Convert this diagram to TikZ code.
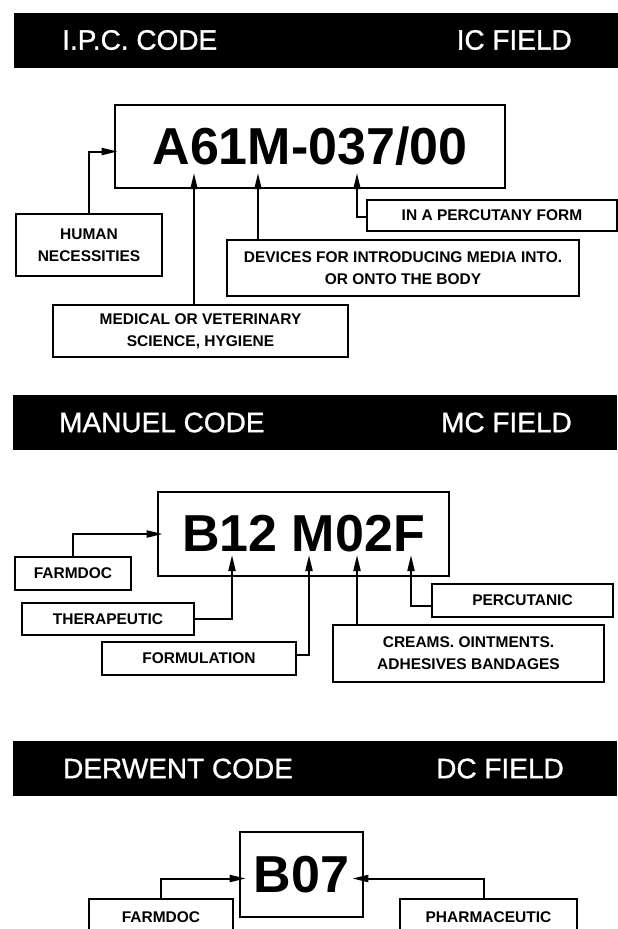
\documentclass[tikz,border=0pt]{standalone}
\usepackage{fontspec}
\setmainfont{Liberation Sans}
\newfontfamily\barfont{Liberation Sans}[FakeBold=1]
\usetikzlibrary{arrows.meta}
\definecolor{ink}{HTML}{000000}
\definecolor{paper}{HTML}{FFFFFF}

\tikzset{
  fieldbar/.style={fill=ink, minimum width=604pt, minimum height=55pt, inner sep=0pt, anchor=west},
  bartext/.style={text=paper, font=\barfont\fontsize{28}{32}\selectfont, inner sep=0pt},
  codebox/.style={draw=ink, line width=2.6pt, inner sep=0pt, font=\fontsize{52}{56}\selectfont\bfseries},
  labelbox/.style={draw=ink, line width=2.2pt, inner sep=0pt, align=center, font=\fontsize{15.5}{22}\selectfont\bfseries},
  feed/.style={draw=ink, line width=2pt, -{Triangle[length=16pt,width=7pt]}}
}

\begin{document}
\begin{tikzpicture}[x=1pt, y=-1pt]
\useasboundingbox (0,0) rectangle (618,929);
\clip (0,0) rectangle (618,929);

\node[fieldbar] (ipcbar) at (14,40) {};
\node[bartext, anchor=west] (ipctitle) at (62,40) {I.P.C. CODE};
\node[bartext, anchor=east] (ipcfield) at (572,40) {IC FIELD};

\node[codebox, minimum width=390pt, minimum height=83pt] (ipccode) at (310,146.5) {A61M-037/00};
\node[labelbox, minimum width=146pt, minimum height=62pt] (human) at (89,245) {HUMAN\\NECESSITIES};
\node[labelbox, minimum width=295pt, minimum height=52pt] (medical) at (200.5,331) {MEDICAL OR VETERINARY\\SCIENCE, HYGIENE};
\node[labelbox, minimum width=352pt, minimum height=56pt] (devices) at (403,268) {DEVICES FOR INTRODUCING MEDIA INTO.\\OR ONTO THE BODY};
\node[labelbox, minimum width=250pt, minimum height=31pt] (percut) at (492,215.5) {IN A PERCUTANY FORM};

\coordinate (ipcA) at (194,173);
\coordinate (ipcB) at (258,173);
\coordinate (ipcC) at (357,173);
\draw[feed] (human.north) |- ([xshift=4pt,yshift=-5pt]ipccode.west);
\draw[feed] (medical.north -| ipcA) -- (ipcA);
\draw[feed] (devices.north -| ipcB) -- (ipcB);
\draw[feed] ([yshift=-1.5pt]percut.west) -| (ipcC);

\node[fieldbar] (mcbar) at (13,422.5) {};
\node[bartext, anchor=west] (mctitle) at (59,422.5) {MANUEL CODE};
\node[bartext, anchor=east] (mcfield) at (572,422.5) {MC FIELD};

\node[codebox, minimum width=291pt, minimum height=84pt] (mccode) at (303.5,534) {B12 M02F};
\node[labelbox, minimum width=116pt, minimum height=33pt] (farmmc) at (73,573.5) {FARMDOC};
\node[labelbox, minimum width=172pt, minimum height=32pt] (thera) at (108,619) {THERAPEUTIC};
\node[labelbox, minimum width=194pt, minimum height=33pt] (formul) at (199,658.5) {FORMULATION};
\node[labelbox, minimum width=271pt, minimum height=57pt] (creams) at (468.5,653.5) {CREAMS. OINTMENTS.\\ADHESIVES BANDAGES};
\node[labelbox, minimum width=181pt, minimum height=33pt] (percutanic) at (522.5,600.5) {PERCUTANIC};

\coordinate (mcA) at (232,555);
\coordinate (mcB) at (309,555);
\coordinate (mcC) at (357,555);
\coordinate (mcD) at (411,555);
\draw[feed] (farmmc.north) |- ([xshift=6pt]mccode.west);
\draw[feed] (thera.east) -| (mcA);
\draw[feed] ([yshift=4pt]formul.east) -| (mcB);
\draw[feed] (creams.north -| mcC) -- (mcC);
\draw[feed] ([yshift=-5pt]percutanic.west) -| (mcD);

\node[fieldbar] (dcbar) at (13,768.5) {};
\node[bartext, anchor=west] (dctitle) at (63,768.5) {DERWENT CODE};
\node[bartext, anchor=east] (dcfield) at (564,768.5) {DC FIELD};

\node[codebox, minimum width=123pt, minimum height=85pt] (dccode) at (301.5,874.5) {B07\hspace{12pt}};
\node[labelbox, minimum width=144pt, minimum height=36pt] (farmdc) at (161,917) {FARMDOC};
\node[labelbox, minimum width=177pt, minimum height=36pt] (pharma) at (488.5,917) {PHARMACEUTIC};

\draw[feed] (farmdc.north) |- ([xshift=7pt,yshift=-4pt]dccode.west);
\draw[feed] ([xshift=-5pt]pharma.north) |- ([xshift=-12pt,yshift=-4pt]dccode.east);
\end{tikzpicture}
\end{document}
